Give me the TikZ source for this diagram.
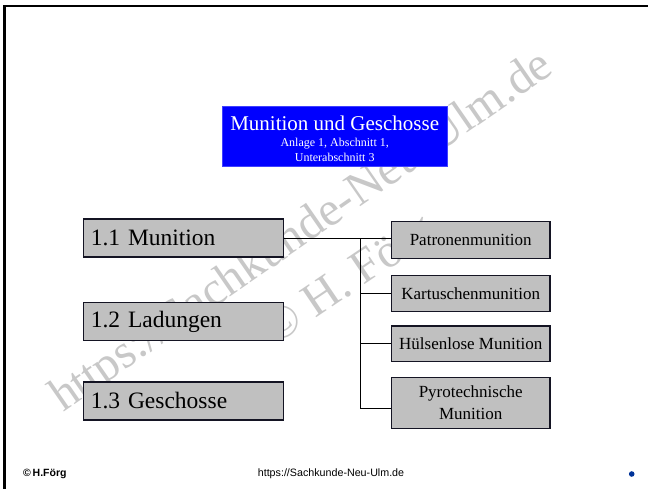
\documentclass[tikz,border=0pt]{standalone}
\usepackage{fontspec}
\setmainfont{Liberation Serif}
\newfontfamily\footfont{Liberation Sans}
\definecolor{boxgray}{RGB}{192,192,192}
\definecolor{boxline}{RGB}{20,20,35}
\definecolor{titleblue}{RGB}{0,0,255}
\definecolor{markgray}{RGB}{200,200,200}
\definecolor{dotblue}{RGB}{0,51,153}
\begin{document}
\begin{tikzpicture}[x=1pt,y=-1pt,
  mainbox/.style={draw=boxline,line width=1.1pt,fill=boxgray,rectangle,
    minimum width=200pt,minimum height=38pt,text width=185pt,
    inner xsep=7.5pt,align=left,font=\fontsize{23.5}{27}\selectfont},
  subbox/.style={draw=boxline,line width=1.1pt,fill=boxgray,rectangle,
    minimum width=158.6pt,minimum height=36.5pt,inner sep=2pt,align=center,
    font=\fontsize{17}{21.5}\selectfont},
  link/.style={draw=black,line width=0.9pt},
  watermark/.style={text=markgray,font=\fontsize{48}{50}\selectfont,
    inner sep=0pt,anchor=base west}]
\useasboundingbox (0,0) rectangle (648,488);
\fill[white] (0,0) rectangle (648,488);

% slide frame (top and left edges)
\draw[line width=2.3pt,black] (4.5,489) -- (4.5,6.2) -- (649,6.2);

% watermark behind the chart
\node[watermark,rotate=34.7] (wm1) at (63,413) {https://Sachkunde-Neu-Ulm.de};
\node[watermark,rotate=34] (wm2) at (275,346) {© H. Förg};

% title box
\node[rectangle,fill=titleblue,draw=blue!75!white,line width=0.6pt,
  minimum width=224.3pt,minimum height=60pt,inner sep=0pt] (title) at (334.7,136.7) {};
\node[anchor=base,text=white,inner sep=0pt,font=\fontsize{21}{24}\selectfont] (tmain) at (334.7,130.5) {Munition und Geschosse};
\node[anchor=base,text=white,inner sep=0pt,font=\fontsize{12}{14}\selectfont] (tsub1) at (334.7,146.8) {Anlage 1, Abschnitt 1,};
\node[anchor=base,text=white,inner sep=0pt,font=\fontsize{12}{14}\selectfont] (tsub2) at (334.7,161.8) {Unterabschnitt 3};

% left column
\node[mainbox] (m11) at (183.3,238) {1.1 Munition};
\node[mainbox] (m12) at (183.3,321.5) {1.2 Ladungen};
\node[mainbox] (m13) at (183.3,401) {1.3 Geschosse};

% right column
\node[subbox] (pat) at (470.7,240) {Patronenmunition};
\node[subbox] (kart) at (470.7,293.3) {Kartuschenmunition};
\node[subbox,minimum height=35.7pt] (huel) at (470.7,343.8) {Hülsenlose Munition};
\node[subbox,minimum height=51pt] (pyro) at (470.7,402.8) {Pyrotechnische\\Munition};

% connectors
\coordinate (bus) at (360.4,238);
\coordinate (bend) at (360.4,408.3);
\draw[link] (m11.east |- bus) -- (pat.west |- bus);
\draw[link] (bus) -- (bend) -- (pyro.west |- bend);
\draw[link] (bus |- kart.west) -- (kart.west);
\draw[link] (bus |- huel.west) -- (huel.west);

% footer
\node[anchor=base west,inner sep=0pt,font=\footfont\bfseries\fontsize{10.5}{12}\selectfont] (author) at (23,476.5) {©\,H.Förg};
\node[anchor=base,inner sep=0pt,font=\footfont\fontsize{10.7}{12}\selectfont] (url) at (331,476.5) {https://Sachkunde-Neu-Ulm.de};
\fill[dotblue] (631.7,474) circle (2.8pt);
\end{tikzpicture}
\end{document}
